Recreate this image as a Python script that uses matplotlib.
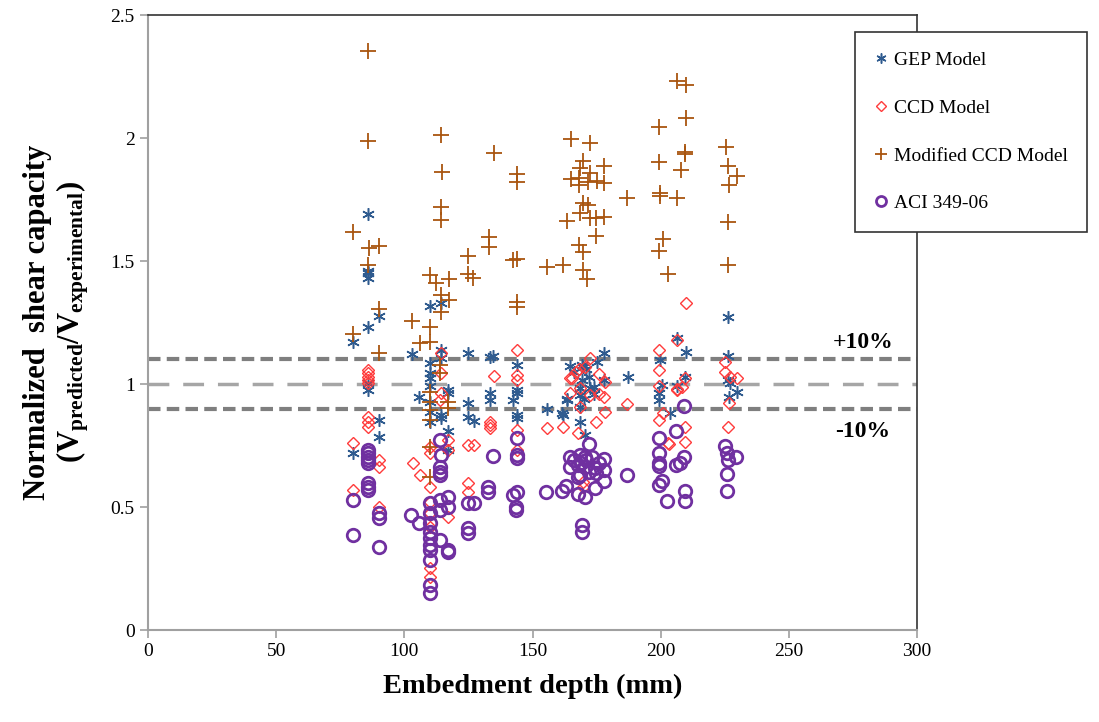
import matplotlib
matplotlib.use("Agg")
import matplotlib.pyplot as plt

plt.rcParams['font.family'] = ['Liberation Serif', 'DejaVu Serif']
plt.rcParams['mathtext.fontset'] = 'custom'
plt.rcParams['mathtext.rm'] = 'Liberation Serif'
plt.rcParams['mathtext.bf'] = 'Liberation Serif:bold'
plt.rcParams['mathtext.it'] = 'Liberation Serif:italic'

# GEP model (embedment depth mm, normalized capacity)
gep_x = [85.7, 86, 86, 86, 90.3, 86, 110, 114.2, 79.9, 103, 124.8, 133.4, 134.7, 114.3,
         110, 110, 110, 114.3, 143.8, 86, 86, 105.9, 110, 110, 110, 114.3, 114.3, 117.2,
         117.2, 124.8, 124.8, 127.2, 133.4, 133.4, 142.5, 143.8, 143.8, 143.8, 143.8, 90.3,
         90.3, 79.9, 117.2, 117.2, 110, 155.6, 161.7, 163.6, 164.6, 169.8, 177.9, 175,
         168.6, 168.6, 172.5, 173.8, 177.7, 168.6, 168.6, 170.5, 169.2, 187.1, 199.8, 200.4,
         199.5, 199.5, 203.7, 206.3, 209.7, 209.5, 206.3, 226.1, 226.1, 226.1, 227, 229.7,
         226.7, 166, 171, 172, 174, 170, 163.3, 169.2, 161.4]
gep_y = [1.69, 1.45, 1.43, 1.46, 1.276, 1.233, 1.317, 1.33, 1.172, 1.122, 1.125, 1.111, 1.114, 1.138,
         1.084, 1.043, 1.023, 1.104, 1.077, 1.003, 0.976, 0.948, 0.928, 0.888, 0.847, 0.874, 0.861, 0.976,
         0.962, 0.922, 0.865, 0.851, 0.962, 0.935, 0.935, 0.976, 0.962, 0.874, 0.861, 0.854,
         0.786, 0.718, 0.807, 0.732, 0.99, 0.898, 0.874, 0.938, 1.073, 1.07, 1.125, 1.091,
         0.982, 0.955, 0.982, 0.986, 1.016, 0.908, 0.847, 0.793, 1.016, 1.03, 1.098, 0.996,
         0.962, 0.935, 0.881, 1.186, 1.129, 1.03, 0.99, 1.274, 1.114, 1.016, 1.003, 0.969,
         0.949, 1.05, 1.06, 1.03, 0.96, 0.94, 0.935, 1.077, 0.881]

# CCD model
ccd_x = [114.3, 143.8, 114.3, 135.1, 143.8, 143.8, 86, 86, 86, 86, 86, 114.3, 113.9, 86, 86, 86,
         79.9, 90.3, 90.3, 103.3, 106.1, 110, 110, 110, 117.2, 117.2, 124.8, 127.2, 124.8, 124.8,
         133.4, 133.4, 133.4, 143.8, 143.8, 79.9, 90.3, 110, 110, 110, 117.2, 110, 110,
         209.7, 206.3, 199.5, 199.5, 199.5, 206.3, 208.2, 209.5, 201, 199.5, 209.5, 203.4, 209.5,
         172.5, 164.6, 167, 170.5, 168, 176, 168.6, 172.5, 176, 177.7, 178.3, 164.6, 162, 155.6,
         167.9, 174.8, 187, 225.1, 225.1, 227.1, 229.9, 226.7, 226.1, 169.8, 165.3, 178.3,
         168.6, 203, 206.3, 169.8]
ccd_y = [1.125, 1.138, 1.043, 1.034, 1.037, 1.016, 1.057, 1.043, 1.03, 1.016, 1.003, 0.962, 0.935, 0.867, 0.847, 0.827,
         0.759, 0.691, 0.664, 0.678, 0.63, 0.745, 0.718, 0.583, 0.772, 0.732, 0.752, 0.752, 0.596, 0.562,
         0.847, 0.833, 0.82, 0.813, 0.732, 0.569, 0.501, 0.522, 0.474, 0.42, 0.461, 0.251, 0.217,
         1.328, 1.179, 1.138, 1.057, 0.99, 0.978, 0.986, 1.023, 0.881, 0.854, 0.827, 0.756, 0.766,
         1.104, 1.023, 1.05, 1.07, 1.06, 1.04, 0.982, 0.955, 0.96, 0.949, 0.888, 0.962, 0.827, 0.82,
         0.799, 0.844, 0.919, 1.091, 1.05, 1.03, 1.023, 0.922, 0.827, 0.603, 1.023, 1.01,
         0.905, 0.759, 0.976, 0.583]

# Modified CCD model
mccd_x = [85.7, 85.7, 114.2, 135.1, 114.6, 144, 144, 114.3, 114.3, 79.9, 86.1, 90.3, 132.9, 132.9,
          124.9, 142.5, 143.8, 85.7, 110, 112.4, 117.4, 124.9, 126.9, 114.3, 114.3, 117.6, 143.8,
          143.8, 90.3, 103.1, 110, 79.9, 90.3, 106.1, 110, 114, 114, 110, 110, 110, 110, 117.2,
          117.2, 110, 110, 206.3, 209.7, 209.7, 199.5, 164.9, 172.5, 169.8, 168.6, 177.7, 172.5,
          164.9, 168.3, 168.3, 171.8, 175, 177.9, 199.5, 209.3, 209.3, 208, 225.4, 226.1, 229.9,
          226.7, 187, 199.8, 199.8, 206.3, 169.8, 171.8, 168.6, 172.5, 174.8, 177.7, 163.6, 174.8,
          168.3, 169.8, 155.6, 161.8, 169.8, 171.1, 201, 199.5, 203, 226.4, 226.4]
mccd_y = [2.355, 1.988, 2.012, 1.94, 1.863, 1.854, 1.822, 1.718, 1.667, 1.617, 1.552, 1.562, 1.599, 1.558,
          1.52, 1.504, 1.508, 1.484, 1.443, 1.409, 1.426, 1.447, 1.432, 1.362, 1.294, 1.341, 1.335,
          1.314, 1.304, 1.256, 1.233, 1.203, 1.125, 1.165, 1.172, 1.077, 1.046, 0.969, 0.928, 0.894, 0.854, 0.928,
          0.901, 0.745, 0.623, 2.233, 2.215, 2.083, 2.043, 1.995, 1.981, 1.908, 1.877, 1.886, 1.856,
          1.832, 1.836, 1.809, 1.823, 1.827, 1.816, 1.904, 1.944, 1.934, 1.87, 1.965, 1.886, 1.846,
          1.809, 1.755, 1.775, 1.764, 1.755, 1.734, 1.728, 1.694, 1.673, 1.673, 1.68, 1.664, 1.6,
          1.565, 1.538, 1.477, 1.484, 1.463, 1.426, 1.588, 1.542, 1.447, 1.66, 1.484]

# ACI 349-06
aci_x = [86, 86, 86, 86, 86, 86, 86, 86, 79.9, 113.9, 114.3, 113.9, 113.9, 113.9, 134.7, 143.8,
         143.8, 143.8, 132.8, 132.8, 142.2, 143.8, 79.9, 90.3, 90.3, 90.3, 102.6, 105.9,
         110, 110, 110, 110, 110, 110, 110, 110, 110, 110, 114, 114, 114, 117.2, 117.2, 117.2,
         117.2, 124.8, 127, 124.8, 124.8, 143.6, 143.6,
         172.2, 164.6, 168.6, 170.5, 173.1, 177.7, 164.6, 167.9, 170.5, 174.4, 177.7, 168.6, 172.2,
         174.8, 177.7, 174.4, 167.9, 155.2, 161.4, 163.1, 167.9, 170.5, 169.2, 169.2, 186.8,
         199.5, 199.5, 199.5, 199.5, 199.5, 200.7, 202.6, 205.9, 205.9, 207.6, 209.1, 209.1,
         209.3, 209.3, 225.1, 225.8, 226.4, 229.4, 225.8, 225.8, 166, 171, 176, 169]
aci_y = [0.732, 0.718, 0.705, 0.691, 0.677, 0.596, 0.583, 0.569, 0.53, 0.772, 0.711, 0.664, 0.644, 0.63, 0.707, 0.779,
         0.711, 0.698, 0.583, 0.562, 0.549, 0.562, 0.386, 0.474, 0.454, 0.339, 0.467, 0.434,
         0.515, 0.474, 0.434, 0.40, 0.373, 0.346, 0.325, 0.285, 0.183, 0.149, 0.528, 0.488, 0.366, 0.542, 0.501, 0.325,
         0.318, 0.518, 0.518, 0.413, 0.393, 0.501, 0.488,
         0.756, 0.702, 0.711, 0.705, 0.705, 0.694, 0.664, 0.671, 0.664, 0.657, 0.65, 0.63, 0.644,
         0.637, 0.606, 0.576, 0.623, 0.56, 0.566, 0.587, 0.552, 0.542, 0.427, 0.40, 0.629,
         0.779, 0.721, 0.678, 0.668, 0.589, 0.606, 0.524, 0.809, 0.671, 0.678, 0.911, 0.705,
         0.566, 0.524, 0.748, 0.718, 0.691, 0.705, 0.634, 0.565, 0.69, 0.69, 0.68, 0.68]

fig = plt.figure(figsize=(10.99, 7.22), dpi=100)
ax = fig.add_axes([0.1347, 0.1274, 0.6997, 0.8518])

# reference lines
ax.axhline(1.1, color='#7f7f7f', lw=3, ls=(0, (3, 1.5)), zorder=1)
ax.axhline(0.9, color='#7f7f7f', lw=3, ls=(0, (3, 1.5)), zorder=1)
ax.axhline(1.0, color='#a6a6a6', lw=2.5, ls=(0, (6, 4)), zorder=1)

ax.plot(gep_x, gep_y, ls='none', marker=(6, 2, 0), ms=9, mew=1.1, color='#2f5b8f', label='GEP Model', zorder=3)
ax.plot(ccd_x, ccd_y, ls='none', marker='D', ms=6.5, mew=1.0, mfc='none', mec='#ff3b3b', label='CCD Model', zorder=3)
ax.plot(mccd_x, mccd_y, ls='none', marker='+', ms=11, mew=1.3, color='#a9550f', label='Modified CCD Model', zorder=3)
ax.plot(aci_x, aci_y, ls='none', marker='o', ms=9, mew=2.0, mfc='none', mec='#7030a0', label='ACI 349-06', zorder=4)

ax.set_xlim(0, 300)
ax.set_ylim(0, 2.5)
ax.set_xticks(range(0, 301, 50))
ax.set_yticks([0, 0.5, 1, 1.5, 2, 2.5])
ax.set_yticklabels(['0', '0.5', '1', '1.5', '2', '2.5'])
ax.tick_params(direction='out', length=6, width=1.2, color='#a0a0a0', labelsize=14)

for s in ['left', 'bottom']:
    ax.spines[s].set_color('#a0a0a0')
    ax.spines[s].set_linewidth(1.5)
for s in ['top', 'right']:
    ax.spines[s].set_color('#333333')
    ax.spines[s].set_linewidth(1.2)

ax.text(279, 1.167, '+10%', fontsize=17, fontweight='bold', ha='center', va='center')
ax.text(279, 0.805, '-10%', fontsize=17, fontweight='bold', ha='center', va='center')

ax.set_xlabel('Embedment depth (mm)', fontsize=20.5, fontweight='bold', labelpad=10)
ax.set_ylabel('Normalized  shear capacity\n' +
              r'$\mathbf{(V_{predicted}/V_{experimental})}$',
              fontsize=22, fontweight='bold', labelpad=14, linespacing=1.1)

leg = fig.legend(loc='upper left', bbox_to_anchor=(0.778, 0.9557), borderaxespad=0,
                 fontsize=14, labelspacing=1.55, handlelength=0.7, handletextpad=0.3,
                 borderpad=1.0, fancybox=False, framealpha=1, markerscale=0.8)
leg.get_frame().set_edgecolor('#333333')
leg.get_frame().set_linewidth(1.2)

fig.savefig('out.png', dpi=100)
